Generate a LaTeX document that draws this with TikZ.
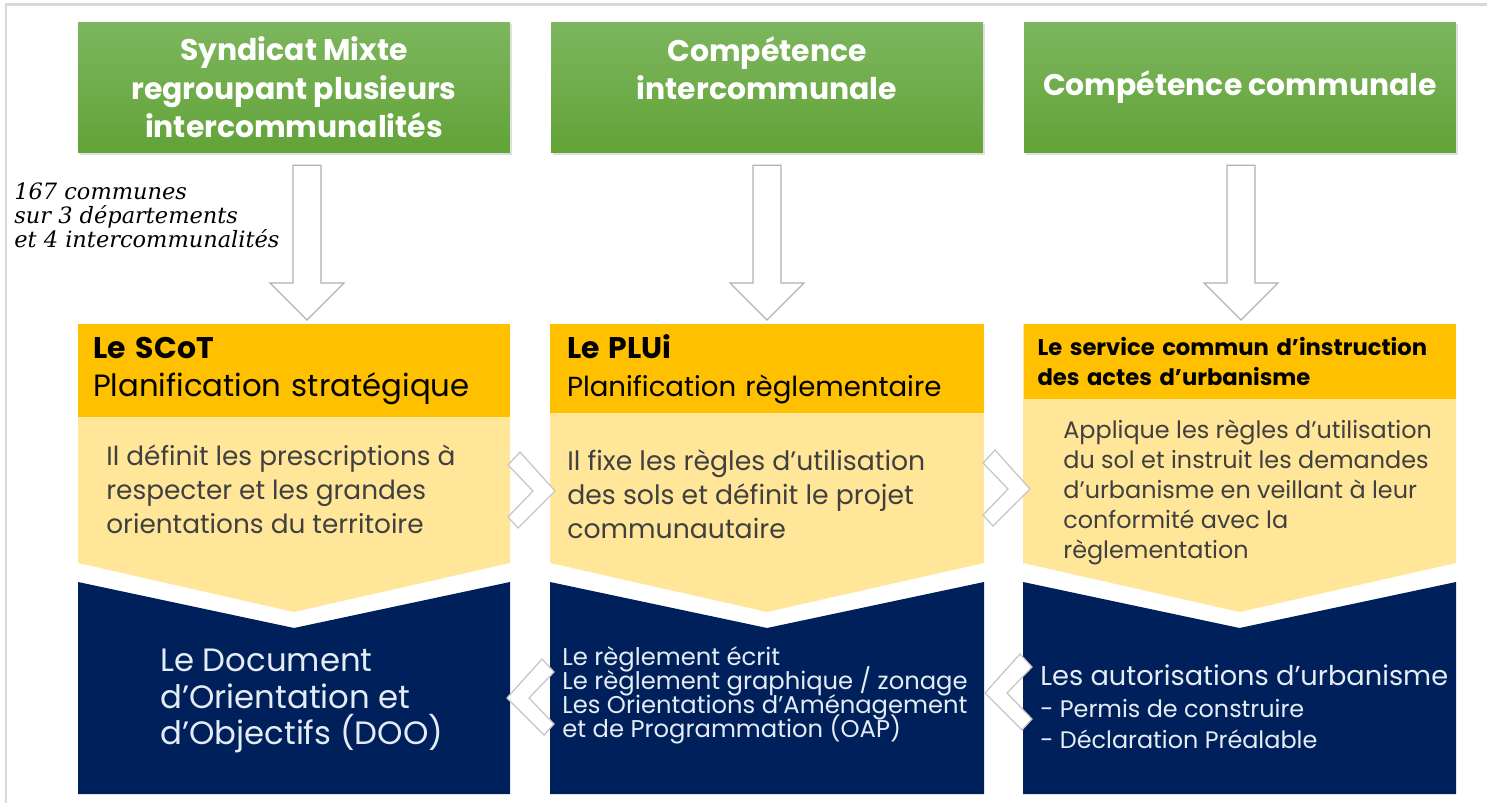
\documentclass[tikz,border=0pt]{standalone}
\usepackage{fontspec}
\setmainfont{Poppins}
\newfontfamily\notefont{DejaVu Serif}
\usetikzlibrary{calc,shadows}

\definecolor{grntop}{HTML}{7DB65E}
\definecolor{grnbot}{HTML}{62A338}
\definecolor{headyel}{HTML}{FFC000}
\definecolor{lightyel}{HTML}{FFE699}
\definecolor{navy}{HTML}{00205C}
\definecolor{paletxt}{HTML}{E4ECF4}
\definecolor{bodytxt}{HTML}{404040}

\begin{document}
\lineskiplimit=-100pt
\begin{tikzpicture}[x=0.02cm,y=-0.02cm,
  greenbox/.style={rectangle,top color=grntop,bottom color=grnbot,
    minimum width=8.64cm,minimum height=2.62cm,text=white,align=center,
    font=\bfseries\fontsize{17}{22}\selectfont,
    drop shadow={opacity=0.25,shadow xshift=0.04cm,shadow yshift=-0.04cm}},
  headbox/.style={rectangle,fill=headyel,anchor=north,align=left,inner ysep=0pt},
  bodytext/.style={anchor=west,align=left,text=bodytxt,inner sep=0pt},
  darktext/.style={anchor=west,align=left,text=paletxt,inner sep=0pt},
  blockarrow/.style={draw=gray!60,fill=white,line width=0.025cm,line join=miter},
  chevron/.style={draw=gray!45,fill=white,line width=0.025cm}]
\useasboundingbox (0,0) rectangle (1487,803);
\draw[gray!30,line width=0.06cm] (6,803) -- (6,5) -- (1487,5);

% light yellow and navy shapes
\foreach \l/\r in {78/510, 550/984, 1023/1456} {
  \fill[lightyel] (\l,324) -- (\r,324) -- (\r,563) -- ({(\l+\r)/2},612) -- (\l,563) -- cycle;
  \fill[navy] (\l,582) -- ({(\l+\r)/2},628) -- (\r,582) -- (\r,794) -- (\l,794) -- cycle;
}

% top row
\node[greenbox] (smx) at (294,87.5) {Syndicat Mixte\\regroupant plusieurs\\intercommunalités};
\node[greenbox] (cinter) at (767,87.5) {Compétence\\intercommunale\\~};
\node[greenbox] (ccom) at (1240,87.5) {Compétence communale};

\node[anchor=west,align=left,inner sep=0pt,font=\notefont\itshape\fontsize{12.8}{13.7}\selectfont]
  (note) at (14,215) {167 communes\\sur 3 départements\\et 4 intercommunalités};

% headers
\node[headbox,minimum width=8.64cm,minimum height=1.86cm,inner xsep=0.3cm,text width=8.04cm,
  font=\fontsize{17.5}{21.6}\selectfont] (scot) at (294,324)
  {{\bfseries\fontsize{17}{21.6}\selectfont Le SCoT}\\Planification stratégique};
\node[headbox,minimum width=8.68cm,minimum height=1.78cm,inner xsep=0.34cm,text width=8cm,
  font=\fontsize{15.7}{21.6}\selectfont] (plui) at (767,324)
  {{\bfseries\fontsize{17}{21.6}\selectfont Le PLUi}\\Planification règlementaire};
\node[headbox,minimum width=8.66cm,minimum height=1.5cm,inner xsep=0.28cm,text width=8.1cm,
  font=\bfseries\fontsize{12.9}{17}\selectfont] (servc) at (1240,324)
  {Le service commun d'instruction\\des actes d'urbanisme};

% body texts
\node[bodytext,font=\fontsize{15}{19.3}\selectfont] (scotb) at (106,489)
  {Il définit les prescriptions à\\respecter et les grandes\\orientations du territoire};
\node[bodytext,font=\fontsize{15.2}{19.3}\selectfont] (pluib) at (567,494)
  {Il fixe les règles d'utilisation\\des sols et définit le projet\\communautaire};
\node[bodytext,font=\fontsize{13.6}{17}\selectfont] (servcb) at (1063,492.5)
  {Applique les règles d'utilisation\\du sol et instruit les demandes\\d'urbanisme en veillant à leur\\conformité avec la\\règlementation};

% navy texts
\node[darktext,font=\fontsize{18.4}{21}\selectfont] (doo) at (160,701)
  {Le Document\\d'Orientation et\\d'Objectifs (DOO)};
\node[darktext,font=\fontsize{13.8}{13.7}\selectfont] (regl) at (562,695)
  {Le règlement écrit\\Le règlement graphique / zonage\\Les Orientations d'Aménagement\\et de Programmation (OAP)};
\node[darktext,font=\fontsize{13.6}{18}\selectfont] (autor) at (1040,707)
  {{\fontsize{15.5}{18}\selectfont Les autorisations d'urbanisme}\\- Permis de construire\\- Déclaration Préalable};

% block arrows
\foreach \a/\b/\o in {smx/scot/13, cinter/plui/0, ccom/servc/1} {
  \draw[blockarrow] ($(\a.south)+(\o-14,12)$) -- ($(\b.north)+(\o-14,-41)$)
    -- ($(\b.north)+(\o-37,-41)$) -- ($(\b.north)+(\o,-4)$) -- ($(\b.north)+(\o+37,-41)$)
    -- ($(\b.north)+(\o+14,-41)$) -- ($(\a.south)+(\o+14,12)$) -- cycle;
}

% chevrons
\foreach \t in {(555,491), (1030,489)}
  \draw[chevron] \t ++(-47,-26) -- ++(12,-13) -- \t -- ++(-37,37) -- ++(-10,-11) -- ++(25,-26) -- cycle;
\foreach \t in {(507,698), (985,693)}
  \draw[chevron] \t ++(47,-26) -- ++(-12,-13) -- \t -- ++(37,37) -- ++(10,-11) -- ++(-25,-26) -- cycle;
\end{tikzpicture}
\end{document}
